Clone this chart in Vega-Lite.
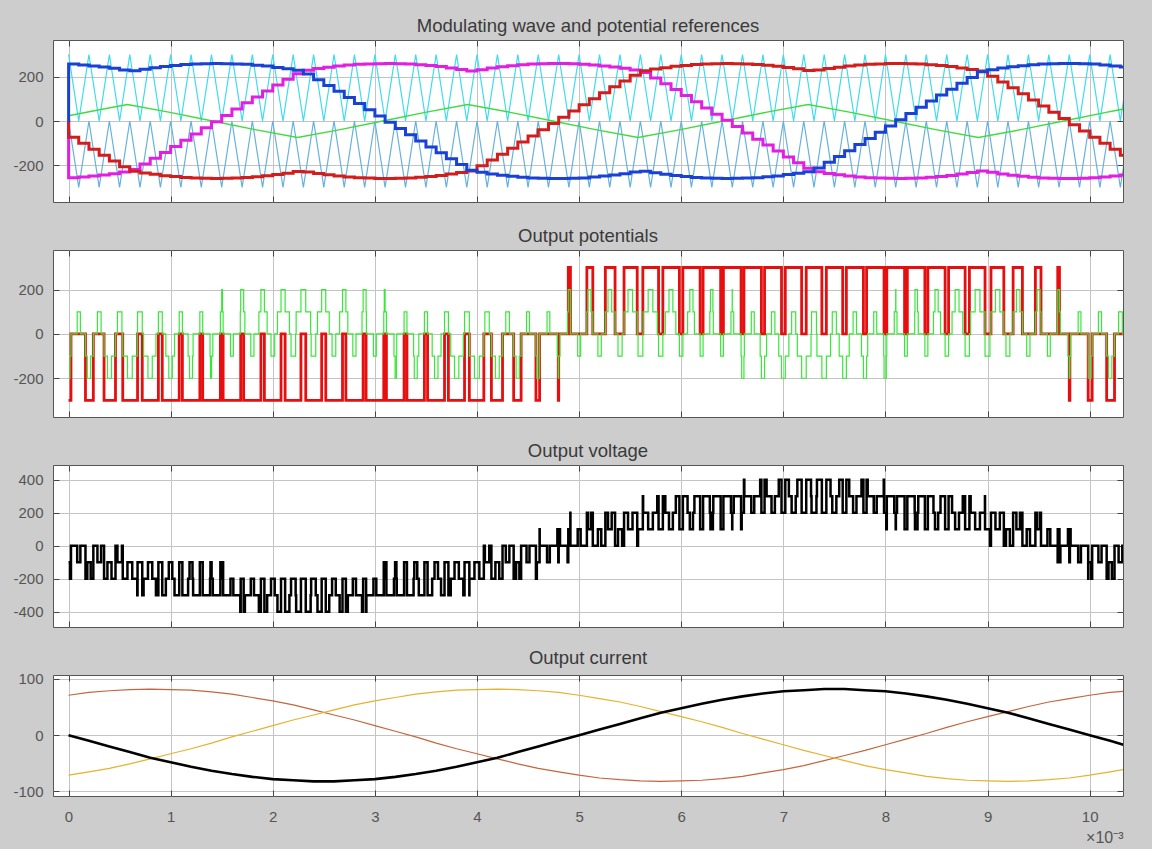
{
"$schema": "https://vega.github.io/schema/vega-lite/v6.json",
"background": "#cdcdcd",
"padding": {"left": 12, "top": 16, "right": 28, "bottom": 4},
"bounds": "flush",
"spacing": 48,
"config": {
  "view": {"stroke": "#555555", "strokeWidth": 1, "fill": "#ffffff"},
  "font": "Liberation Sans",
  "axis": {"labelFont": "Liberation Sans", "labelFontSize": 15, "labelColor": "#555555", "gridColor": "#c4c4c4", "gridWidth": 1, "tickColor": "#444444", "tickSize": -6, "domain": false, "labelFlush": false, "labelOverlap": false, "titleFont": "Liberation Sans"},
  "title": {"font": "Liberation Sans", "fontSize": 18.5, "fontWeight": "normal", "color": "#3a3a3a", "anchor": "middle", "baseline": "alphabetic", "offset": 4}
},
"datasets": {
"p1": [
{"t":0,"b":0,"m":0,"r":0,"u":300,"l":0},
{"t":0.001,"b":257,"m":-256,"r":-73,"u":300,"l":0},
{"t":0.1,"b":253,"m":-253,"r":-101,"u":0,"l":-300},
{"t":0.2,"b":249,"m":-249,"r":-128,"u":300,"l":0},
{"t":0.3,"b":244,"m":-244,"r":-155,"u":0,"l":-300},
{"t":0.4,"b":238,"m":-238,"r":-181,"u":300,"l":0},
{"t":0.5,"b":231,"m":-231,"r":-207,"u":0,"l":-300},
{"t":0.6,"b":227,"m":-219,"r":-227,"u":300,"l":0},
{"t":0.7,"b":234,"m":-194,"r":-235,"u":0,"l":-300},
{"t":0.8,"b":241,"m":-168,"r":-241,"u":300,"l":0},
{"t":0.9,"b":246,"m":-142,"r":-247,"u":0,"l":-300},
{"t":1.0,"b":251,"m":-115,"r":-251,"u":300,"l":0},
{"t":1.1,"b":255,"m":-87,"r":-255,"u":0,"l":-300},
{"t":1.2,"b":257,"m":-59,"r":-258,"u":300,"l":0},
{"t":1.3,"b":259,"m":-31,"r":-259,"u":0,"l":-300},
{"t":1.4,"b":260,"m":-3,"r":-260,"u":300,"l":0},
{"t":1.5,"b":259,"m":25,"r":-259,"u":0,"l":-300},
{"t":1.6,"b":258,"m":54,"r":-258,"u":300,"l":0},
{"t":1.7,"b":256,"m":82,"r":-255,"u":0,"l":-300},
{"t":1.8,"b":252,"m":109,"r":-252,"u":300,"l":0},
{"t":1.9,"b":248,"m":136,"r":-247,"u":0,"l":-300},
{"t":2.0,"b":242,"m":163,"r":-242,"u":300,"l":0},
{"t":2.1,"b":236,"m":189,"r":-236,"u":0,"l":-300},
{"t":2.2,"b":229,"m":214,"r":-228,"u":300,"l":0},
{"t":2.3,"b":212,"m":229,"r":-230,"u":0,"l":-300},
{"t":2.4,"b":186,"m":237,"r":-237,"u":300,"l":0},
{"t":2.5,"b":160,"m":243,"r":-243,"u":0,"l":-300},
{"t":2.6,"b":134,"m":248,"r":-248,"u":300,"l":0},
{"t":2.7,"b":106,"m":253,"r":-253,"u":0,"l":-300},
{"t":2.8,"b":79,"m":256,"r":-256,"u":300,"l":0},
{"t":2.9,"b":51,"m":258,"r":-258,"u":0,"l":-300},
{"t":3.0,"b":23,"m":259,"r":-260,"u":300,"l":0},
{"t":3.1,"b":-6,"m":260,"r":-260,"u":0,"l":-300},
{"t":3.2,"b":-34,"m":259,"r":-259,"u":300,"l":0},
{"t":3.3,"b":-62,"m":257,"r":-257,"u":0,"l":-300},
{"t":3.4,"b":-90,"m":254,"r":-254,"u":300,"l":0},
{"t":3.5,"b":-117,"m":251,"r":-251,"u":0,"l":-300},
{"t":3.6,"b":-144,"m":246,"r":-246,"u":300,"l":0},
{"t":3.7,"b":-171,"m":240,"r":-240,"u":0,"l":-300},
{"t":3.8,"b":-197,"m":233,"r":-233,"u":300,"l":0},
{"t":3.9,"b":-222,"m":226,"r":-226,"u":0,"l":-300},
{"t":4.0,"b":-232,"m":232,"r":-202,"u":300,"l":0},
{"t":4.1,"b":-239,"m":239,"r":-176,"u":0,"l":-300},
{"t":4.2,"b":-245,"m":245,"r":-150,"u":300,"l":0},
{"t":4.3,"b":-250,"m":250,"r":-123,"u":0,"l":-300},
{"t":4.4,"b":-254,"m":254,"r":-95,"u":300,"l":0},
{"t":4.5,"b":-257,"m":257,"r":-68,"u":0,"l":-300},
{"t":4.6,"b":-259,"m":259,"r":-40,"u":300,"l":0},
{"t":4.7,"b":-260,"m":260,"r":-11,"u":0,"l":-300},
{"t":4.8,"b":-260,"m":260,"r":17,"u":300,"l":0},
{"t":4.9,"b":-259,"m":259,"r":45,"u":0,"l":-300},
{"t":5.0,"b":-257,"m":256,"r":73,"u":300,"l":0},
{"t":5.1,"b":-253,"m":253,"r":101,"u":0,"l":-300},
{"t":5.2,"b":-249,"m":249,"r":128,"u":300,"l":0},
{"t":5.3,"b":-244,"m":244,"r":155,"u":0,"l":-300},
{"t":5.4,"b":-238,"m":238,"r":181,"u":300,"l":0},
{"t":5.5,"b":-231,"m":231,"r":207,"u":0,"l":-300},
{"t":5.6,"b":-227,"m":219,"r":227,"u":300,"l":0},
{"t":5.7,"b":-234,"m":194,"r":235,"u":0,"l":-300},
{"t":5.8,"b":-241,"m":168,"r":241,"u":300,"l":0},
{"t":5.9,"b":-246,"m":142,"r":247,"u":0,"l":-300},
{"t":6.0,"b":-251,"m":115,"r":251,"u":300,"l":0},
{"t":6.1,"b":-255,"m":87,"r":255,"u":0,"l":-300},
{"t":6.2,"b":-257,"m":59,"r":258,"u":300,"l":0},
{"t":6.3,"b":-259,"m":31,"r":259,"u":0,"l":-300},
{"t":6.4,"b":-260,"m":3,"r":260,"u":300,"l":0},
{"t":6.5,"b":-259,"m":-25,"r":259,"u":0,"l":-300},
{"t":6.6,"b":-258,"m":-54,"r":258,"u":300,"l":0},
{"t":6.7,"b":-256,"m":-82,"r":255,"u":0,"l":-300},
{"t":6.8,"b":-252,"m":-109,"r":252,"u":300,"l":0},
{"t":6.9,"b":-248,"m":-136,"r":247,"u":0,"l":-300},
{"t":7.0,"b":-242,"m":-163,"r":242,"u":300,"l":0},
{"t":7.1,"b":-236,"m":-189,"r":236,"u":0,"l":-300},
{"t":7.2,"b":-229,"m":-214,"r":228,"u":300,"l":0},
{"t":7.3,"b":-212,"m":-229,"r":230,"u":0,"l":-300},
{"t":7.4,"b":-186,"m":-237,"r":237,"u":300,"l":0},
{"t":7.5,"b":-160,"m":-243,"r":243,"u":0,"l":-300},
{"t":7.6,"b":-134,"m":-248,"r":248,"u":300,"l":0},
{"t":7.7,"b":-106,"m":-253,"r":253,"u":0,"l":-300},
{"t":7.8,"b":-79,"m":-256,"r":256,"u":300,"l":0},
{"t":7.9,"b":-51,"m":-258,"r":258,"u":0,"l":-300},
{"t":8.0,"b":-23,"m":-259,"r":260,"u":300,"l":0},
{"t":8.1,"b":6,"m":-260,"r":260,"u":0,"l":-300},
{"t":8.2,"b":34,"m":-259,"r":259,"u":300,"l":0},
{"t":8.3,"b":62,"m":-257,"r":257,"u":0,"l":-300},
{"t":8.4,"b":90,"m":-254,"r":254,"u":300,"l":0},
{"t":8.5,"b":117,"m":-251,"r":251,"u":0,"l":-300},
{"t":8.6,"b":144,"m":-246,"r":246,"u":300,"l":0},
{"t":8.7,"b":171,"m":-240,"r":240,"u":0,"l":-300},
{"t":8.8,"b":197,"m":-233,"r":233,"u":300,"l":0},
{"t":8.9,"b":222,"m":-226,"r":226,"u":0,"l":-300},
{"t":9.0,"b":232,"m":-232,"r":202,"u":300,"l":0},
{"t":9.1,"b":239,"m":-239,"r":176,"u":0,"l":-300},
{"t":9.2,"b":245,"m":-245,"r":150,"u":300,"l":0},
{"t":9.3,"b":250,"m":-250,"r":123,"u":0,"l":-300},
{"t":9.4,"b":254,"m":-254,"r":95,"u":300,"l":0},
{"t":9.5,"b":257,"m":-257,"r":68,"u":0,"l":-300},
{"t":9.6,"b":259,"m":-259,"r":40,"u":300,"l":0},
{"t":9.7,"b":260,"m":-260,"r":11,"u":0,"l":-300},
{"t":9.8,"b":260,"m":-260,"r":-17,"u":300,"l":0},
{"t":9.9,"b":259,"m":-259,"r":-45,"u":0,"l":-300},
{"t":10.0,"b":257,"m":-256,"r":-73,"u":300,"l":0},
{"t":10.1,"b":253,"m":-253,"r":-101,"u":0,"l":-300},
{"t":10.2,"b":249,"m":-249,"r":-128,"u":300,"l":0},
{"t":10.3,"b":244,"m":-244,"r":-155,"u":0,"l":-300},
{"t":10.4,"b":244,"m":-244,"r":-155,"u":300,"l":0}
],
"g1": [
{"t":0,"g":24},{"t":0.29,"g":50},{"t":0.577,"g":75},{"t":0.994,"g":39},{"t":1.41,"g":0},{"t":1.827,"g":-39},{"t":2.243,"g":-75},{"t":2.66,"g":-39},{"t":3.077,"g":0},{"t":3.493,"g":39},{"t":3.91,"g":75},{"t":4.327,"g":39},{"t":4.743,"g":0},{"t":5.16,"g":-39},{"t":5.577,"g":-75},{"t":5.993,"g":-39},{"t":6.41,"g":0},{"t":6.827,"g":39},{"t":7.243,"g":75},{"t":7.66,"g":39},{"t":8.077,"g":0},{"t":8.493,"g":-39},{"t":8.91,"g":-75},{"t":9.327,"g":-39},{"t":9.743,"g":0},{"t":10.16,"g":39},{"t":10.33,"g":54}
],
"sw": [
{"t":0,"r":-300,"g":-200,"v":-100},
{"t":0.014,"r":-300,"g":-100,"v":-200},{"t":0.024,"r":0,"g":0,"v":0},{"t":0.085,"r":0,"g":100,"v":-100},{"t":0.116,"r":0,"g":0,"v":0},{"t":0.166,"r":-300,"g":-100,"v":-200},{"t":0.184,"r":-300,"g":-200,"v":-100},
{"t":0.217,"r":-300,"g":-100,"v":-200},{"t":0.243,"r":0,"g":0,"v":0},{"t":0.283,"r":0,"g":100,"v":-100},{"t":0.319,"r":0,"g":0,"v":0},{"t":0.348,"r":-300,"g":-100,"v":-200},{"t":0.381,"r":-300,"g":-200,"v":-100},
{"t":0.421,"r":-300,"g":-100,"v":-200},{"t":0.46,"r":0,"g":0,"v":0},{"t":0.479,"r":0,"g":100,"v":-100},{"t":0.523,"r":0,"g":0,"v":0},{"t":0.531,"r":-300,"g":-100,"v":-200},{"t":0.577,"r":-300,"g":-200,"v":-100},
{"t":0.624,"r":-300,"g":-100,"v":-200},{"t":0.673,"r":-300,"g":0,"v":-300},{"t":0.676,"r":0,"g":100,"v":-100},{"t":0.722,"r":-300,"g":0,"v":-300},{"t":0.735,"r":-300,"g":-100,"v":-200},{"t":0.778,"r":-300,"g":-200,"v":-100},
{"t":0.82,"r":-300,"g":-100,"v":-200},{"t":0.856,"r":-300,"g":0,"v":-300},{"t":0.88,"r":0,"g":100,"v":-100},{"t":0.918,"r":-300,"g":0,"v":-300},{"t":0.953,"r":-300,"g":-100,"v":-200},{"t":0.982,"r":-300,"g":-200,"v":-100},
{"t":1.016,"r":-300,"g":-100,"v":-200},{"t":1.038,"r":-300,"g":0,"v":-300},{"t":1.084,"r":0,"g":100,"v":-100},{"t":1.115,"r":-300,"g":0,"v":-300},{"t":1.171,"r":-300,"g":-100,"v":-200},{"t":1.185,"r":-300,"g":-200,"v":-100},
{"t":1.214,"r":-300,"g":-100,"v":-200},{"t":1.22,"r":-300,"g":0,"v":-300},{"t":1.286,"r":0,"g":100,"v":-100},{"t":1.314,"r":-300,"g":0,"v":-300},{"t":1.386,"r":-300,"g":-100,"v":-200},{"t":1.39,"r":-300,"g":-200,"v":-100},
{"t":1.401,"r":-300,"g":-100,"v":-200},{"t":1.413,"r":-300,"g":0,"v":-300},{"t":1.487,"r":0,"g":100,"v":-100},{"t":1.5,"r":0,"g":200,"v":-200},{"t":1.508,"r":0,"g":100,"v":-100},{"t":1.514,"r":-300,"g":0,"v":-300},{"t":1.586,"r":-300,"g":-100,"v":-200},
{"t":1.614,"r":-300,"g":0,"v":-300},{"t":1.682,"r":-300,"g":100,"v":-400},{"t":1.686,"r":0,"g":200,"v":-200},{"t":1.715,"r":-300,"g":100,"v":-400},{"t":1.727,"r":-300,"g":0,"v":-300},{"t":1.785,"r":-300,"g":-100,"v":-200},
{"t":1.816,"r":-300,"g":0,"v":-300},{"t":1.864,"r":-300,"g":100,"v":-400},{"t":1.884,"r":0,"g":200,"v":-200},{"t":1.918,"r":-300,"g":100,"v":-400},{"t":1.945,"r":-300,"g":0,"v":-300},{"t":1.983,"r":-300,"g":-100,"v":-200},
{"t":2.019,"r":-300,"g":0,"v":-300},{"t":2.046,"r":-300,"g":100,"v":-400},{"t":2.081,"r":0,"g":200,"v":-200},{"t":2.121,"r":-300,"g":100,"v":-400},{"t":2.163,"r":-300,"g":0,"v":-300},{"t":2.179,"r":-300,"g":-100,"v":-200},
{"t":2.224,"r":-300,"g":0,"v":-300},{"t":2.229,"r":-300,"g":100,"v":-400},{"t":2.276,"r":0,"g":200,"v":-200},{"t":2.323,"r":-300,"g":100,"v":-400},{"t":2.371,"r":-300,"g":0,"v":-300},{"t":2.376,"r":-300,"g":-100,"v":-200},
{"t":2.421,"r":-300,"g":0,"v":-300},{"t":2.438,"r":-300,"g":100,"v":-400},{"t":2.479,"r":0,"g":200,"v":-200},{"t":2.519,"r":-300,"g":100,"v":-400},{"t":2.553,"r":-300,"g":0,"v":-300},{"t":2.581,"r":-300,"g":-100,"v":-200},
{"t":2.617,"r":-300,"g":0,"v":-300},{"t":2.655,"r":-300,"g":100,"v":-400},{"t":2.683,"r":0,"g":200,"v":-200},{"t":2.716,"r":-300,"g":100,"v":-400},{"t":2.735,"r":-300,"g":0,"v":-300},{"t":2.784,"r":-300,"g":-100,"v":-200},
{"t":2.815,"r":-300,"g":0,"v":-300},{"t":2.874,"r":-300,"g":100,"v":-400},{"t":2.885,"r":0,"g":200,"v":-200},{"t":2.914,"r":-300,"g":100,"v":-400},{"t":2.917,"r":-300,"g":0,"v":-300},{"t":2.986,"r":-300,"g":-100,"v":-200},
{"t":3.014,"r":-300,"g":0,"v":-300},{"t":3.087,"r":0,"g":100,"v":-100},{"t":3.092,"r":0,"g":200,"v":-200},{"t":3.1,"r":0,"g":100,"v":-100},{"t":3.113,"r":-300,"g":0,"v":-300},{"t":3.187,"r":-300,"g":-100,"v":-200},{"t":3.198,"r":-300,"g":-200,"v":-100},
{"t":3.211,"r":-300,"g":-100,"v":-200},{"t":3.214,"r":-300,"g":0,"v":-300},{"t":3.286,"r":0,"g":100,"v":-100},{"t":3.314,"r":-300,"g":0,"v":-300},{"t":3.379,"r":-300,"g":-100,"v":-200},{"t":3.386,"r":-300,"g":-200,"v":-100},
{"t":3.415,"r":-300,"g":-100,"v":-200},{"t":3.43,"r":-300,"g":0,"v":-300},{"t":3.485,"r":0,"g":100,"v":-100},{"t":3.516,"r":-300,"g":0,"v":-300},{"t":3.561,"r":-300,"g":-100,"v":-200},{"t":3.584,"r":-300,"g":-200,"v":-100},
{"t":3.618,"r":-300,"g":-100,"v":-200},{"t":3.648,"r":-300,"g":0,"v":-300},{"t":3.682,"r":0,"g":100,"v":-100},{"t":3.72,"r":-300,"g":0,"v":-300},{"t":3.743,"r":-300,"g":-100,"v":-200},{"t":3.78,"r":-300,"g":-200,"v":-100},
{"t":3.822,"r":-300,"g":-100,"v":-200},{"t":3.866,"r":-300,"g":0,"v":-300},{"t":3.878,"r":0,"g":100,"v":-100},{"t":3.925,"r":-300,"g":0,"v":-300},{"t":3.926,"r":-300,"g":-100,"v":-200},{"t":3.975,"r":-300,"g":-200,"v":-100},
{"t":4.023,"r":-300,"g":-100,"v":-200},{"t":4.067,"r":0,"g":0,"v":0},{"t":4.077,"r":0,"g":100,"v":-100},{"t":4.12,"r":0,"g":0,"v":0},{"t":4.141,"r":-300,"g":-100,"v":-200},{"t":4.18,"r":-300,"g":-200,"v":-100},
{"t":4.218,"r":-300,"g":-100,"v":-200},{"t":4.25,"r":0,"g":0,"v":0},{"t":4.282,"r":0,"g":100,"v":-100},{"t":4.317,"r":0,"g":0,"v":0},{"t":4.359,"r":-300,"g":-100,"v":-200},{"t":4.383,"r":-300,"g":-200,"v":-100},
{"t":4.415,"r":-300,"g":-100,"v":-200},{"t":4.432,"r":0,"g":0,"v":0},{"t":4.485,"r":0,"g":100,"v":-100},{"t":4.514,"r":0,"g":0,"v":0},{"t":4.577,"r":-300,"g":-100,"v":-200},{"t":4.586,"r":-300,"g":-200,"v":-100},
{"t":4.613,"r":0,"g":-100,"v":100},{"t":4.614,"r":0,"g":0,"v":0},{"t":4.686,"r":0,"g":100,"v":-100},{"t":4.713,"r":0,"g":0,"v":0},{"t":4.787,"r":0,"g":-100,"v":100},{"t":4.796,"r":-300,"g":-200,"v":-100},
{"t":4.8,"r":0,"g":-100,"v":100},{"t":4.813,"r":0,"g":0,"v":0},{"t":4.887,"r":0,"g":100,"v":-100},{"t":4.894,"r":300,"g":200,"v":100},{"t":4.914,"r":300,"g":100,"v":200},{"t":4.915,"r":0,"g":0,"v":0},{"t":4.986,"r":0,"g":-100,"v":100},
{"t":5.015,"r":0,"g":0,"v":0},{"t":5.076,"r":300,"g":100,"v":200},{"t":5.086,"r":300,"g":200,"v":100},{"t":5.116,"r":300,"g":100,"v":200},{"t":5.134,"r":0,"g":0,"v":0},{"t":5.184,"r":0,"g":-100,"v":100},
{"t":5.217,"r":0,"g":0,"v":0},{"t":5.257,"r":300,"g":100,"v":200},{"t":5.283,"r":300,"g":200,"v":100},{"t":5.319,"r":300,"g":100,"v":200},{"t":5.352,"r":0,"g":0,"v":0},{"t":5.381,"r":0,"g":-100,"v":100},
{"t":5.421,"r":0,"g":0,"v":0},{"t":5.44,"r":300,"g":100,"v":200},{"t":5.479,"r":300,"g":200,"v":100},{"t":5.523,"r":300,"g":100,"v":200},{"t":5.569,"r":0,"g":0,"v":0},{"t":5.577,"r":0,"g":-100,"v":100},
{"t":5.624,"r":300,"g":0,"v":300},{"t":5.627,"r":300,"g":100,"v":200},{"t":5.676,"r":300,"g":200,"v":100},{"t":5.722,"r":300,"g":100,"v":200},{"t":5.765,"r":300,"g":0,"v":300},{"t":5.778,"r":0,"g":-100,"v":100},
{"t":5.82,"r":300,"g":0,"v":300},{"t":5.844,"r":300,"g":100,"v":200},{"t":5.88,"r":300,"g":200,"v":100},{"t":5.918,"r":300,"g":100,"v":200},{"t":5.947,"r":300,"g":0,"v":300},{"t":5.982,"r":0,"g":-100,"v":100},
{"t":6.016,"r":300,"g":0,"v":300},{"t":6.062,"r":300,"g":100,"v":200},{"t":6.084,"r":300,"g":200,"v":100},{"t":6.115,"r":300,"g":100,"v":200},{"t":6.129,"r":300,"g":0,"v":300},{"t":6.185,"r":0,"g":-100,"v":100},
{"t":6.214,"r":300,"g":0,"v":300},{"t":6.28,"r":300,"g":100,"v":200},{"t":6.286,"r":300,"g":200,"v":100},{"t":6.31,"r":300,"g":100,"v":200},{"t":6.314,"r":300,"g":0,"v":300},{"t":6.386,"r":0,"g":-100,"v":100},
{"t":6.413,"r":300,"g":0,"v":300},{"t":6.487,"r":300,"g":100,"v":200},{"t":6.499,"r":300,"g":200,"v":100},{"t":6.5,"r":300,"g":100,"v":200},{"t":6.514,"r":300,"g":0,"v":300},{"t":6.586,"r":0,"g":-100,"v":100},{"t":6.592,"r":0,"g":-200,"v":200},
{"t":6.614,"r":300,"g":-100,"v":400},{"t":6.618,"r":300,"g":0,"v":300},{"t":6.686,"r":300,"g":100,"v":200},{"t":6.715,"r":300,"g":0,"v":300},{"t":6.773,"r":300,"g":-100,"v":400},{"t":6.785,"r":0,"g":-200,"v":200},
{"t":6.816,"r":300,"g":-100,"v":400},{"t":6.836,"r":300,"g":0,"v":300},{"t":6.884,"r":300,"g":100,"v":200},{"t":6.917,"r":300,"g":0,"v":300},{"t":6.955,"r":300,"g":-100,"v":400},{"t":6.982,"r":0,"g":-200,"v":200},
{"t":7.019,"r":300,"g":-100,"v":400},{"t":7.054,"r":300,"g":0,"v":300},{"t":7.081,"r":300,"g":100,"v":200},{"t":7.121,"r":300,"g":0,"v":300},{"t":7.137,"r":300,"g":-100,"v":400},{"t":7.179,"r":0,"g":-200,"v":200},
{"t":7.224,"r":300,"g":-100,"v":400},{"t":7.271,"r":300,"g":0,"v":300},{"t":7.276,"r":300,"g":100,"v":200},{"t":7.324,"r":300,"g":0,"v":300},{"t":7.329,"r":300,"g":-100,"v":400},{"t":7.377,"r":0,"g":-200,"v":200},
{"t":7.421,"r":300,"g":-100,"v":400},{"t":7.462,"r":300,"g":0,"v":300},{"t":7.479,"r":300,"g":100,"v":200},{"t":7.519,"r":300,"g":0,"v":300},{"t":7.547,"r":300,"g":-100,"v":400},{"t":7.581,"r":0,"g":-200,"v":200},
{"t":7.617,"r":300,"g":-100,"v":400},{"t":7.645,"r":300,"g":0,"v":300},{"t":7.683,"r":300,"g":100,"v":200},{"t":7.716,"r":300,"g":0,"v":300},{"t":7.765,"r":300,"g":-100,"v":400},{"t":7.784,"r":0,"g":-200,"v":200},
{"t":7.815,"r":300,"g":-100,"v":400},{"t":7.826,"r":300,"g":0,"v":300},{"t":7.885,"r":300,"g":100,"v":200},{"t":7.914,"r":300,"g":0,"v":300},{"t":7.983,"r":300,"g":-100,"v":400},{"t":7.986,"r":0,"g":-200,"v":200},
{"t":8.008,"r":0,"g":-100,"v":100},{"t":8.013,"r":300,"g":0,"v":300},{"t":8.086,"r":300,"g":100,"v":200},{"t":8.1,"r":300,"g":200,"v":100},{"t":8.102,"r":300,"g":100,"v":200},{"t":8.113,"r":300,"g":0,"v":300},{"t":8.187,"r":0,"g":-100,"v":100},
{"t":8.214,"r":300,"g":0,"v":300},{"t":8.286,"r":300,"g":100,"v":200},{"t":8.289,"r":300,"g":200,"v":100},{"t":8.314,"r":300,"g":100,"v":200},{"t":8.321,"r":300,"g":0,"v":300},{"t":8.386,"r":0,"g":-100,"v":100},
{"t":8.415,"r":300,"g":0,"v":300},{"t":8.47,"r":300,"g":100,"v":200},{"t":8.485,"r":300,"g":200,"v":100},{"t":8.516,"r":300,"g":100,"v":200},{"t":8.539,"r":300,"g":0,"v":300},{"t":8.584,"r":0,"g":-100,"v":100},
{"t":8.618,"r":300,"g":0,"v":300},{"t":8.652,"r":300,"g":100,"v":200},{"t":8.682,"r":300,"g":200,"v":100},{"t":8.72,"r":300,"g":100,"v":200},{"t":8.757,"r":300,"g":0,"v":300},{"t":8.78,"r":0,"g":-100,"v":100},
{"t":8.822,"r":300,"g":0,"v":300},{"t":8.834,"r":300,"g":100,"v":200},{"t":8.878,"r":300,"g":200,"v":100},{"t":8.925,"r":300,"g":100,"v":200},{"t":8.974,"r":300,"g":0,"v":300},{"t":8.975,"r":0,"g":-100,"v":100},
{"t":9.023,"r":0,"g":0,"v":0},{"t":9.033,"r":300,"g":100,"v":200},{"t":9.077,"r":300,"g":200,"v":100},{"t":9.12,"r":300,"g":100,"v":200},{"t":9.159,"r":0,"g":0,"v":0},{"t":9.18,"r":0,"g":-100,"v":100},
{"t":9.218,"r":0,"g":0,"v":0},{"t":9.25,"r":300,"g":100,"v":200},{"t":9.282,"r":300,"g":200,"v":100},{"t":9.317,"r":300,"g":100,"v":200},{"t":9.341,"r":0,"g":0,"v":0},{"t":9.383,"r":0,"g":-100,"v":100},
{"t":9.415,"r":0,"g":0,"v":0},{"t":9.468,"r":300,"g":100,"v":200},{"t":9.485,"r":300,"g":200,"v":100},{"t":9.514,"r":300,"g":100,"v":200},{"t":9.523,"r":0,"g":0,"v":0},{"t":9.586,"r":0,"g":-100,"v":100},
{"t":9.614,"r":0,"g":0,"v":0},{"t":9.686,"r":0,"g":100,"v":-100},{"t":9.687,"r":300,"g":200,"v":100},{"t":9.704,"r":0,"g":100,"v":-100},{"t":9.713,"r":0,"g":0,"v":0},{"t":9.787,"r":0,"g":-100,"v":100},
{"t":9.8,"r":-300,"g":-200,"v":-100},{"t":9.806,"r":0,"g":-100,"v":100},{"t":9.813,"r":0,"g":0,"v":0},{"t":9.887,"r":0,"g":100,"v":-100},{"t":9.914,"r":0,"g":0,"v":0},{"t":9.985,"r":-300,"g":-100,"v":-200},{"t":9.986,"r":-300,"g":-200,"v":-100},
{"t":10.014,"r":-300,"g":-100,"v":-200},{"t":10.024,"r":0,"g":0,"v":0},{"t":10.085,"r":0,"g":100,"v":-100},{"t":10.116,"r":0,"g":0,"v":0},{"t":10.166,"r":-300,"g":-100,"v":-200},{"t":10.184,"r":-300,"g":-200,"v":-100},
{"t":10.217,"r":-300,"g":-100,"v":-200},{"t":10.243,"r":0,"g":0,"v":0},{"t":10.283,"r":0,"g":100,"v":-100},{"t":10.319,"r":0,"g":0,"v":0},{"t":10.348,"r":-300,"g":-100,"v":-200},{"t":10.381,"r":-300,"g":-200,"v":-100}
],
"cur": [
{"t":0,"a":0,"b":71,"c":-71},{"t":0.2,"a":-10,"b":76,"c":-65},{"t":0.4,"a":-20,"b":79,"c":-59},{"t":0.6,"a":-30,"b":81,"c":-51},{"t":0.8,"a":-40,"b":82,"c":-42},{"t":1.0,"a":-48,"b":81,"c":-33},{"t":1.2,"a":-56,"b":80,"c":-24},{"t":1.4,"a":-63,"b":77,"c":-14},{"t":1.6,"a":-69,"b":73,"c":-3},{"t":1.8,"a":-74,"b":67,"c":7},{"t":2.0,"a":-78,"b":61,"c":17},{"t":2.2,"a":-80,"b":54,"c":27},{"t":2.4,"a":-82,"b":45,"c":36},{"t":2.6,"a":-82,"b":36,"c":45},{"t":2.8,"a":-80,"b":27,"c":54},{"t":3.0,"a":-78,"b":17,"c":61},{"t":3.2,"a":-74,"b":7,"c":67},{"t":3.4,"a":-69,"b":-3,"c":73},{"t":3.6,"a":-63,"b":-14,"c":77},{"t":3.8,"a":-56,"b":-24,"c":80},{"t":4.0,"a":-48,"b":-33,"c":81},{"t":4.2,"a":-40,"b":-42,"c":82},{"t":4.4,"a":-30,"b":-51,"c":81},{"t":4.6,"a":-20,"b":-59,"c":79},{"t":4.8,"a":-10,"b":-65,"c":76},{"t":5.0,"a":0,"b":-71,"c":71},{"t":5.2,"a":10,"b":-76,"c":65},{"t":5.4,"a":20,"b":-79,"c":59},{"t":5.6,"a":30,"b":-81,"c":51},{"t":5.8,"a":40,"b":-82,"c":42},{"t":6.0,"a":48,"b":-81,"c":33},{"t":6.2,"a":56,"b":-80,"c":24},{"t":6.4,"a":63,"b":-77,"c":14},{"t":6.6,"a":69,"b":-73,"c":3},{"t":6.8,"a":74,"b":-67,"c":-7},{"t":7.0,"a":78,"b":-61,"c":-17},{"t":7.2,"a":80,"b":-54,"c":-27},{"t":7.4,"a":82,"b":-45,"c":-36},{"t":7.6,"a":82,"b":-36,"c":-45},{"t":7.8,"a":80,"b":-27,"c":-54},{"t":8.0,"a":78,"b":-17,"c":-61},{"t":8.2,"a":74,"b":-7,"c":-67},{"t":8.4,"a":69,"b":3,"c":-73},{"t":8.6,"a":63,"b":14,"c":-77},{"t":8.8,"a":56,"b":24,"c":-80},{"t":9.0,"a":48,"b":33,"c":-81},{"t":9.2,"a":40,"b":42,"c":-82},{"t":9.4,"a":30,"b":51,"c":-81},{"t":9.6,"a":20,"b":59,"c":-79},{"t":9.8,"a":10,"b":65,"c":-76},{"t":10.0,"a":0,"b":71,"c":-71},{"t":10.2,"a":-10,"b":76,"c":-65},{"t":10.33,"a":-17,"b":78,"c":-61}
]
},
"vconcat": [
{
  "width": 1070, "height": 162,
  "title": {"text": "Modulating wave and potential references"},
  "resolve": {"axis": {"x": "independent", "y": "independent"}},
  "layer": [
    {"data": {"name": "p1"}, "mark": {"type": "line", "color": "#3ddcf0", "strokeWidth": 1.2, "clip": true},
     "encoding": {
       "x": {"field": "t", "type": "quantitative", "scale": {"domain": [-0.152, 10.326], "nice": false, "zero": false}, "axis": {"values": [0,1,2,3,4,5,6,7,8,9,10], "labels": false, "grid": true, "title": null}},
       "y": {"field": "u", "type": "quantitative", "scale": {"domain": [-366, 366], "nice": false, "zero": false}, "axis": {"values": [-200,0,200], "grid": true, "labelPadding": 16, "title": null, "labelExpr": "datum.value < 0 ? '-' + abs(datum.value) : '' + datum.value"}}}},
    {"data": {"name": "p1"}, "mark": {"type": "line", "color": "#66b2de", "strokeWidth": 1.2, "clip": true},
     "encoding": {"x": {"field": "t", "type": "quantitative", "axis": null}, "y": {"field": "l", "type": "quantitative", "axis": null}}},
    {"data": {"name": "g1"}, "mark": {"type": "line", "color": "#3fdc3f", "strokeWidth": 1.5, "clip": true},
     "encoding": {"x": {"field": "t", "type": "quantitative", "axis": null}, "y": {"field": "g", "type": "quantitative", "axis": null}}},
    {"data": {"name": "p1"}, "mark": {"type": "line", "color": "#e21ee2", "strokeWidth": 3, "interpolate": "step-after", "clip": true},
     "encoding": {"x": {"field": "t", "type": "quantitative", "axis": null}, "y": {"field": "m", "type": "quantitative", "axis": null}}},
    {"data": {"name": "p1"}, "mark": {"type": "line", "color": "#d41c1c", "strokeWidth": 3, "interpolate": "step-after", "clip": true},
     "encoding": {"x": {"field": "t", "type": "quantitative", "axis": null}, "y": {"field": "r", "type": "quantitative", "axis": null}}},
    {"data": {"name": "p1"}, "mark": {"type": "line", "color": "#1a40d6", "strokeWidth": 3, "interpolate": "step-after", "clip": true},
     "encoding": {"x": {"field": "t", "type": "quantitative", "axis": null}, "y": {"field": "b", "type": "quantitative", "axis": null}}},
    {"data": {"values": [{"t": 0, "y": 0}]}, "mark": {"type": "point", "opacity": 0},
     "encoding": {
       "x": {"field": "t", "type": "quantitative", "axis": {"orient": "top", "values": [0,1,2,3,4,5,6,7,8,9,10], "labels": false, "grid": false, "title": null}},
       "y": {"field": "y", "type": "quantitative", "axis": {"orient": "right", "values": [-200,0,200], "labels": false, "grid": false, "title": null}}}}
  ]
},
{
  "width": 1070, "height": 167,
  "title": {"text": "Output potentials"},
  "resolve": {"axis": {"x": "independent", "y": "independent"}},
  "layer": [
    {"data": {"name": "sw"}, "mark": {"type": "line", "color": "#e60f0f", "strokeWidth": 2.8, "interpolate": "step-after", "clip": true},
     "encoding": {
       "x": {"field": "t", "type": "quantitative", "scale": {"domain": [-0.152, 10.326], "nice": false, "zero": false}, "axis": {"values": [0,1,2,3,4,5,6,7,8,9,10], "labels": false, "grid": true, "title": null}},
       "y": {"field": "r", "type": "quantitative", "scale": {"domain": [-375, 379], "nice": false, "zero": false}, "axis": {"values": [-200,0,200], "grid": true, "labelPadding": 16, "title": null, "labelExpr": "datum.value < 0 ? '-' + abs(datum.value) : '' + datum.value"}}}},
    {"data": {"name": "sw"}, "mark": {"type": "line", "color": "#38e838", "strokeWidth": 1.2, "interpolate": "step-after", "clip": true},
     "encoding": {"x": {"field": "t", "type": "quantitative", "axis": null}, "y": {"field": "g", "type": "quantitative", "axis": null}}},
    {"data": {"values": [{"t": 0, "y": 0}]}, "mark": {"type": "point", "opacity": 0},
     "encoding": {
       "x": {"field": "t", "type": "quantitative", "axis": {"orient": "top", "values": [0,1,2,3,4,5,6,7,8,9,10], "labels": false, "grid": false, "title": null}},
       "y": {"field": "y", "type": "quantitative", "axis": {"orient": "right", "values": [-200,0,200], "labels": false, "grid": false, "title": null}}}}
  ]
},
{
  "width": 1070, "height": 162,
  "title": {"text": "Output voltage"},
  "resolve": {"axis": {"x": "independent", "y": "independent"}},
  "layer": [
    {"data": {"name": "sw"}, "mark": {"type": "line", "color": "#000000", "strokeWidth": 2.5, "interpolate": "step-after", "clip": true},
     "encoding": {
       "x": {"field": "t", "type": "quantitative", "scale": {"domain": [-0.152, 10.326], "nice": false, "zero": false}, "axis": {"values": [0,1,2,3,4,5,6,7,8,9,10], "labels": false, "grid": true, "title": null}},
       "y": {"field": "v", "type": "quantitative", "scale": {"domain": [-493, 489], "nice": false, "zero": false}, "axis": {"values": [-400,-200,0,200,400], "grid": true, "labelPadding": 16, "title": null, "labelExpr": "datum.value < 0 ? '-' + abs(datum.value) : '' + datum.value"}}}},
    {"data": {"values": [{"t": 0, "y": 0}]}, "mark": {"type": "point", "opacity": 0},
     "encoding": {
       "x": {"field": "t", "type": "quantitative", "axis": {"orient": "top", "values": [0,1,2,3,4,5,6,7,8,9,10], "labels": false, "grid": false, "title": null}},
       "y": {"field": "y", "type": "quantitative", "axis": {"orient": "right", "values": [-400,-200,0,200,400], "labels": false, "grid": false, "title": null}}}}
  ]
},
{
  "width": 1070, "height": 121,
  "title": {"text": "Output current"},
  "resolve": {"axis": {"x": "independent", "y": "independent"}},
  "layer": [
    {"data": {"name": "cur"}, "mark": {"type": "line", "color": "#c5653c", "strokeWidth": 1.2, "clip": true},
     "encoding": {
       "x": {"field": "t", "type": "quantitative", "scale": {"domain": [-0.152, 10.326], "nice": false, "zero": false}, "axis": {"values": [0,1,2,3,4,5,6,7,8,9,10], "labels": true, "grid": true, "labelPadding": 19, "title": "×10⁻³", "titleAnchor": "end", "titleAlign": "right", "titleX": 1070, "titleY": 46, "titleBaseline": "alphabetic", "titleFontSize": 16, "titleFontWeight": "normal", "titleColor": "#555555"}},
       "y": {"field": "b", "type": "quantitative", "scale": {"domain": [-108, 107], "nice": false, "zero": false}, "axis": {"values": [-100,0,100], "grid": true, "labelPadding": 16, "title": null, "labelExpr": "datum.value < 0 ? '-' + abs(datum.value) : '' + datum.value"}}}},
    {"data": {"name": "cur"}, "mark": {"type": "line", "color": "#e6b22e", "strokeWidth": 1.2, "clip": true},
     "encoding": {"x": {"field": "t", "type": "quantitative", "axis": null}, "y": {"field": "c", "type": "quantitative", "axis": null}}},
    {"data": {"name": "cur"}, "mark": {"type": "line", "color": "#000000", "strokeWidth": 2.6, "clip": true},
     "encoding": {"x": {"field": "t", "type": "quantitative", "axis": null}, "y": {"field": "a", "type": "quantitative", "axis": null}}},
    {"data": {"values": [{"t": 0, "y": 0}]}, "mark": {"type": "point", "opacity": 0},
     "encoding": {
       "x": {"field": "t", "type": "quantitative", "axis": {"orient": "top", "values": [0,1,2,3,4,5,6,7,8,9,10], "labels": false, "grid": false, "title": null}},
       "y": {"field": "y", "type": "quantitative", "axis": {"orient": "right", "values": [-100,0,100], "labels": false, "grid": false, "title": null}}}}
  ]
}
]
}
